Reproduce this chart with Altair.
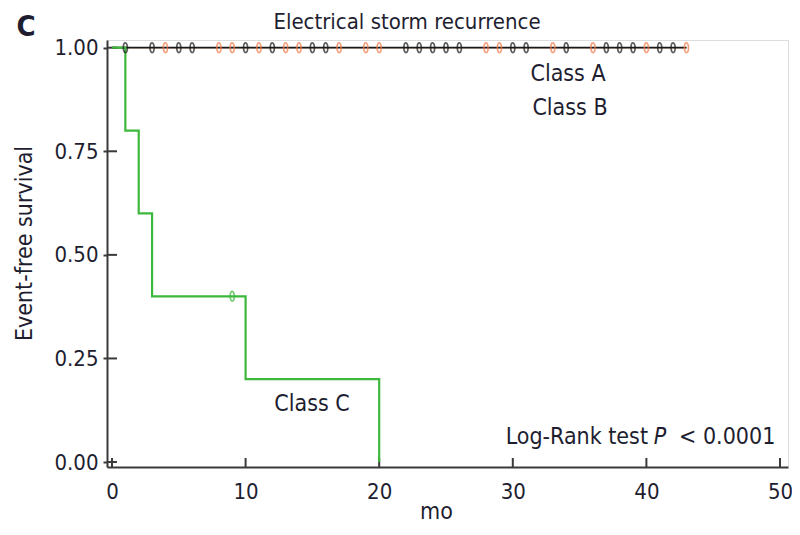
import altair as alt
import pandas as pd

# ---- data ----
classA_times = [0, 43]
classA_surv = [1.0, 1.0]
classB_times = [0, 43]
classB_surv = [1.0, 1.0]
classC_times = [0, 1, 2, 3, 10, 20]
classC_surv = [1.0, 0.8, 0.6, 0.4, 0.2, 0.0]

classA_censor = [1, 3, 5, 6, 10, 12, 15, 16, 22, 23, 24, 25, 26, 30, 31, 34, 37, 38, 39, 41, 42]
classB_censor = [4, 8, 9, 11, 13, 14, 17, 19, 20, 28, 29, 33, 36, 40, 43]
classC_censor = [9]
classC_censor_surv = [0.4]

x_ticks = [0, 10, 20, 30, 40, 50]
y_ticks = [0.0, 0.25, 0.5, 0.75, 1.0]

groups = ["Class B", "Class A", "Class C"]
colors = ["#f47b4a", "#1a1a1a", "#3cb83c"]
censor_colors = ["#f47b4a", "#3a3a3a", "#3cb83c"]

FONT = "DejaVu Sans Condensed, DejaVu Sans"
TXT = "#1e1e30"

lines = pd.concat([
    pd.DataFrame({"time": classB_times, "surv": classB_surv, "group": "Class B", "o": 0}),
    pd.DataFrame({"time": classA_times, "surv": classA_surv, "group": "Class A", "o": 1}),
    pd.DataFrame({"time": classC_times, "surv": classC_surv, "group": "Class C", "o": 2}),
])
censor = pd.concat([
    pd.DataFrame({"time": classA_censor, "surv": 1.0, "group": "Class A"}),
    pd.DataFrame({"time": classB_censor, "surv": 1.0, "group": "Class B"}),
    pd.DataFrame({"time": classC_censor, "surv": classC_censor_surv, "group": "Class C"}),
])
xt = pd.DataFrame({"t": x_ticks})
yt = pd.DataFrame({"v": y_ticks})

xscale = alt.Scale(domain=[-0.374, 50.6], nice=False, zero=False)
yscale = alt.Scale(domain=[-0.012, 1.0186], nice=False, zero=False)

X = alt.X("time:Q", scale=xscale, axis=alt.Axis(
    values=x_ticks, title="mo", grid=False, ticks=False, tickSize=0,
    labelPadding=14, labelFontSize=22, labelFont=FONT, labelColor=TXT,
    domainColor="#3a3a3a", domainWidth=2,
    titleFont=FONT, titleFontSize=23, titleFontWeight="normal", titleColor=TXT,
    titleX=329, titleY=51, titleBaseline="alphabetic", titleAlign="center"))
Y = alt.Y("surv:Q", scale=yscale, axis=alt.Axis(
    values=y_ticks, format=".2f", title="Event-free survival", grid=False,
    tickSize=4, tickColor="#3a3a3a", tickWidth=2,
    labelPadding=5, labelFontSize=22, labelFont=FONT, labelColor=TXT,
    domainColor="#3a3a3a", domainWidth=2,
    titleFont=FONT, titleFontSize=23, titleFontWeight="normal", titleColor=TXT,
    titleX=-83, titleY=203, titleBaseline="middle", titleAlign="center", titleAngle=270))

color = alt.Color("group:N", scale=alt.Scale(domain=groups, range=colors), legend=None)
width = alt.StrokeWidth("group:N", scale=alt.Scale(domain=groups, range=[1.2, 2.2, 1.8]), legend=None)

line_layer = alt.Chart(lines).mark_line(interpolate="step-after").encode(
    x=X, y=Y, color=color, strokeWidth=width, detail="group:N", order="o:Q")

ellipse = "M0,-1 A0.42,1 0 1,1 0,1 A0.42,1 0 1,1 0,-1 Z"
censor_layer = alt.Chart(censor).mark_point(shape=ellipse, size=95, filled=False, strokeWidth=1.7).encode(
    x=alt.X("time:Q", scale=xscale),
    y=alt.Y("surv:Q", scale=yscale),
    color=alt.Color("group:N", scale=alt.Scale(domain=groups, range=censor_colors), legend=None))

xtick_layer = alt.Chart(xt).mark_rule(color="#3a3a3a", strokeWidth=2).encode(
    x=alt.X("t:Q", scale=xscale), y=alt.value(427), y2=alt.value(418))
ytick_layer = alt.Chart(yt).mark_rule(color="#3a3a3a", strokeWidth=2).encode(
    y=alt.Y("v:Q", scale=yscale), x=alt.value(0), x2=alt.value(10))

def label(text, x, y, size=23, align="center", weight="normal", style="normal"):
    return alt.Chart(pd.DataFrame({"t": [text]})).mark_text(
        font=FONT, fontSize=size, align=align, baseline="middle", color=TXT,
        fontWeight=weight, fontStyle=style).encode(
        text="t:N", x=alt.value(x), y=alt.value(y))

texts = [
    label("C", -81, -13, size=29, weight="bold"),
    label("Electrical storm recurrence", 300, -18, size=22),
    label("Class A", 461, 34),
    label("Class B", 463, 68),
    label("Class C", 205, 364),
    label("Log-Rank test", 541, 397, align="right"),
    label("P", 553, 397, style="italic"),
    label("< 0.0001", 572, 397, align="left"),
]

chart = alt.layer(ytick_layer, xtick_layer, line_layer, censor_layer, *texts).properties(
    width=681, height=427,
    autosize=alt.AutoSizeParams(type="none"),
    padding={"left": 99, "top": 32, "right": 4, "bottom": 60},
).configure_view(stroke=None).configure(background="white")

chart.save("out.html", embed_options={"renderer": "svg", "actions": False})
